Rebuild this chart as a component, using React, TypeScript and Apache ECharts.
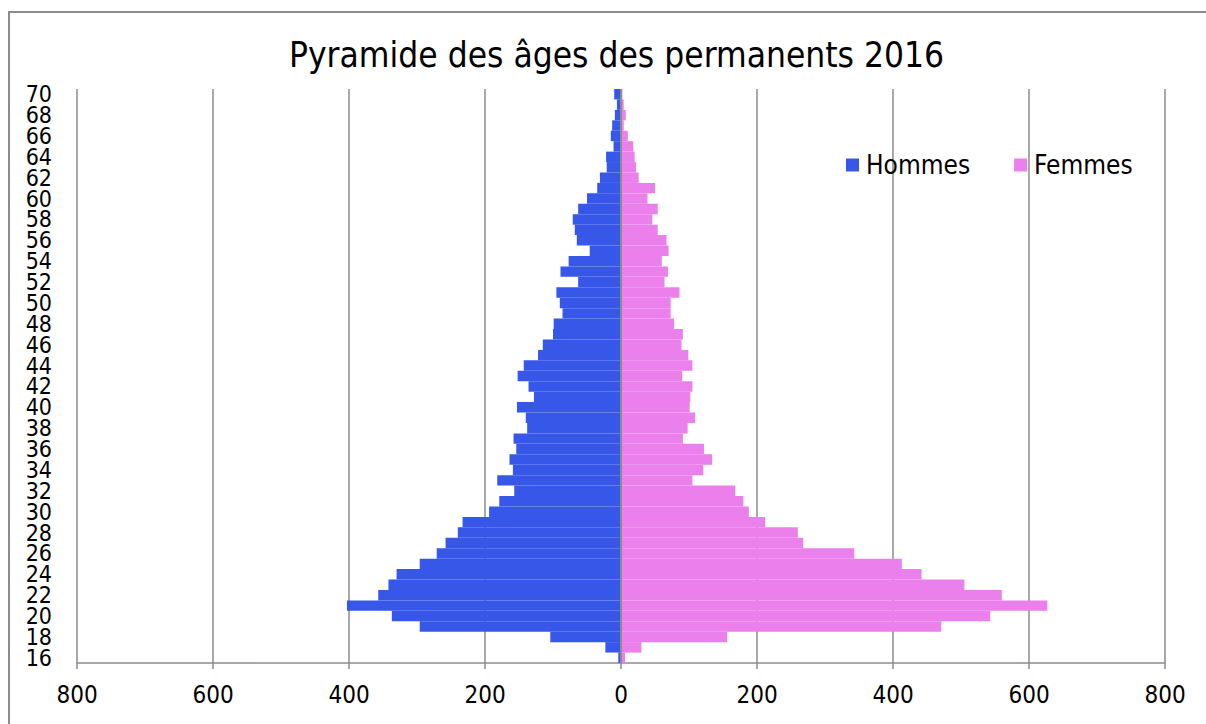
import { useEffect, useRef } from "react";
import * as echarts from "echarts";

const ages = [
  "16", "17", "18", "19", "20", "21", "22", "23", "24", "25",
  "26", "27", "28", "29", "30", "31", "32", "33", "34", "35",
  "36", "37", "38", "39", "40", "41", "42", "43", "44", "45",
  "46", "47", "48", "49", "50", "51", "52", "53", "54", "55",
  "56", "57", "58", "59", "60", "61", "62", "63", "64", "65",
  "66", "67", "68", "69", "70",
];

const hommes = [
  4, 23, 104, 296, 337, 403, 357, 342, 330, 296,
  271, 258, 240, 233, 194, 179, 157, 182, 159, 164,
  154, 158, 138, 140, 153, 128, 136, 152, 143, 122,
  115, 100, 99, 86, 90, 95, 63, 89, 77, 46,
  65, 68, 71, 63, 50, 35, 31, 21, 22, 11,
  15, 13, 9, 6, 10,
];

const femmes = [
  6, 30, 156, 471, 543, 627, 560, 505, 442, 413,
  343, 268, 260, 212, 188, 180, 168, 105, 121, 134,
  122, 91, 98, 109, 101, 102, 105, 90, 105, 99,
  89, 91, 78, 73, 73, 86, 64, 69, 60, 70,
  67, 54, 46, 54, 39, 50, 26, 22, 20, 18,
  10, 4, 7, 4, 2,
];

const seriesNames = ["Hommes", "Femmes"];
const titleText = "Pyramide des âges des permanents 2016";

const BLUE = "#3757E8";
const PINK = "#EB80EC";
const GRID = "#8c8c8c";
const FONT = "DejaVu Sans Condensed";

export default function App() {
  const ref = useRef<HTMLDivElement>(null);
  useEffect(() => {
    const chart = echarts.init(ref.current!, null, { renderer: "svg" });
    chart.setOption({
      animation: false,
      backgroundColor: "#ffffff",
      textStyle: { fontFamily: FONT },
      title: {
        text: titleText,
        left: 289,
        top: 37,
        padding: 0,
        textStyle: {
          fontSize: 35,
          lineHeight: 35,
          fontWeight: "normal",
          color: "#000",
          fontFamily: FONT,
        },
      },
      legend: {
        data: seriesNames,
        left: 846,
        top: 152,
        padding: 0,
        itemWidth: 13,
        itemHeight: 13,
        itemGap: 44,
        icon: "rect",
        textStyle: { fontSize: 26, color: "#000", fontFamily: FONT, padding: [0, 0, 0, 2] },
      },
      grid: { left: 77, right: 41, top: 89, bottom: 61, containLabel: false },
      xAxis: {
        type: "value",
        min: -800,
        max: 800,
        interval: 200,
        axisLine: { show: true, lineStyle: { color: GRID, width: 1.5 } },
        axisTick: { show: true, length: 6, lineStyle: { color: GRID, width: 1.5 } },
        axisLabel: {
          formatter: (v: number) => String(Math.abs(v)),
          fontSize: 24,
          color: "#000",
          margin: 20,
          fontFamily: FONT,
        },
        splitLine: { show: true, lineStyle: { color: GRID, width: 1.5 } },
      },
      yAxis: {
        type: "category",
        data: ages,
        axisLine: { show: false, onZero: false },
        axisTick: { show: false },
        axisLabel: {
          interval: 0,
          formatter: (v: string, i: number) => (i % 2 === 0 ? v : ""),
          showMinLabel: true,
          showMaxLabel: true,
          hideOverlap: false,
          fontSize: 23,
          lineHeight: 20,
          color: "#000",
          margin: 25,
          fontFamily: FONT,
        },
        splitLine: { show: false },
      },
      series: [
        {
          name: seriesNames[0],
          type: "bar",
          data: hommes.map((v) => -v),
          barWidth: "100%",
          barGap: "-100%",
          itemStyle: { color: BLUE },
        },
        {
          name: seriesNames[1],
          type: "bar",
          data: femmes,
          barWidth: "100%",
          barGap: "-100%",
          itemStyle: { color: PINK },
          markLine: {
            silent: true,
            symbol: "none",
            label: { show: false },
            lineStyle: { color: GRID, width: 2, type: "solid" },
            data: [{ xAxis: 0 }],
          },
        },
      ],
      graphic: [
        {
          type: "rect",
          silent: true,
          shape: { x: 9, y: 12, width: 1400, height: 900 },
          style: { fill: "none", stroke: GRID, lineWidth: 2 },
        },
      ],
    });
    return () => chart.dispose();
  }, []);
  return (
    <div
      ref={ref}
      style={{ position: "absolute", left: 0, top: 0, width: 1206, height: 724 }}
    />
  );
}
